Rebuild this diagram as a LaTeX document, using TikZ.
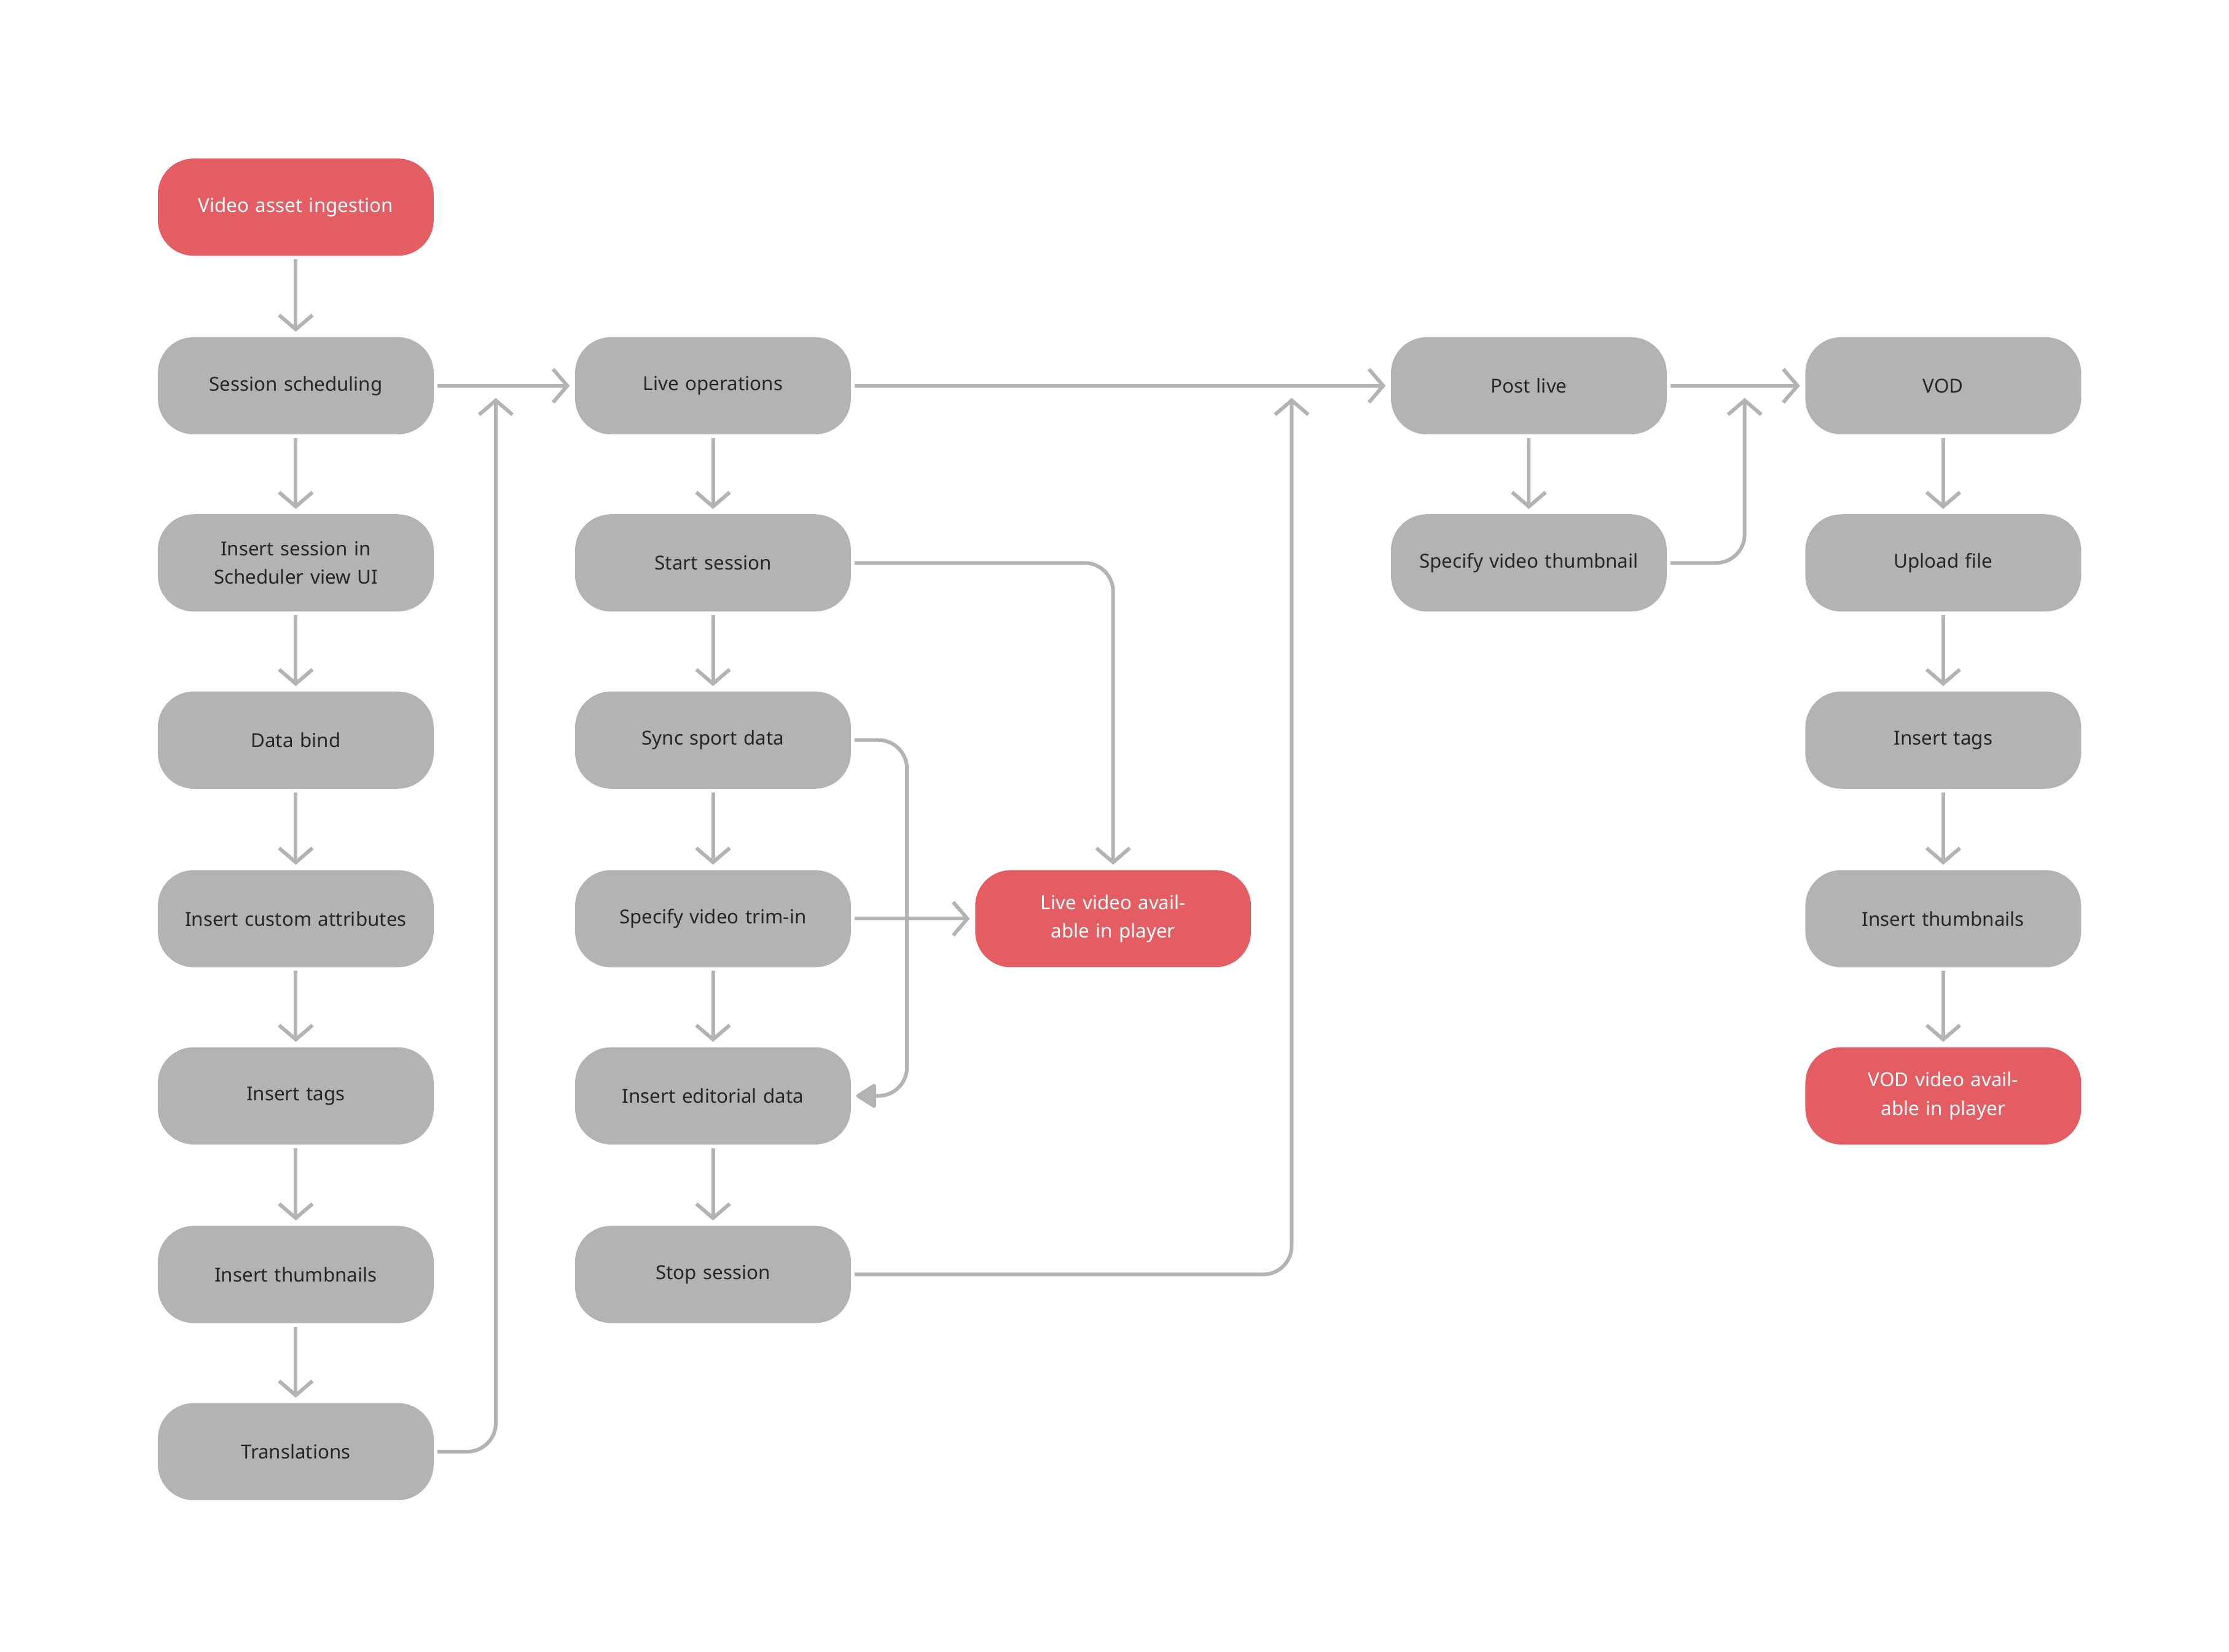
\documentclass[tikz,border=0pt]{standalone}
\usepackage{fontspec}
\setmainfont{Noto Sans}
\usetikzlibrary{arrows.meta}
\definecolor{boxgray}{HTML}{B3B3B3}
\definecolor{boxred}{HTML}{E35D63}
\begin{document}
\begin{tikzpicture}[x=0.03cm,y=-0.03cm]
		% styles
		\tikzset{
		  etape/.style={rectangle,rounded corners=0.75cm,fill=boxgray,text=black!85,minimum width=5.79cm,minimum height=2.04cm,align=center,text width=5cm,font=\fontsize{11.5}{17}\selectfont},
		  titre/.style={etape,font=\fontsize{11.5}{17}\selectfont\bfseries},
		  fin/.style={etape,fill=boxred,text=white,font=\fontsize{11.5}{17}\selectfont\bfseries},
		  lien/.style={draw=boxgray,line width=2.2pt,rounded corners=0.6cm,shorten <=2pt,shorten >=3pt,-{Straight Barb[length=0.3cm,width=0.7cm,line width=2.2pt]}},
		  lienplein/.style={lien,-{Triangle[length=0.45cm,width=0.55cm,round]}}
		}
		\useasboundingbox (0,0) rectangle (1560,1156);
		% colonne 1
		\node[fin] (ingest) at (207,145) {Video asset ingestion};
		\node[titre] (sched) at (207,270) {Session scheduling};
		\node[etape] (insert) at (207,394) {Insert session in\\Scheduler view UI};
		\node[etape] (bind) at (207,518) {Data bind};
		\node[etape] (attr) at (207,643) {Insert custom attributes};
		\node[etape] (tags) at (207,767) {Insert tags};
		\node[etape] (thumbs) at (207,892) {Insert thumbnails};
		\node[etape] (trans) at (207,1016) {Translations};
		% colonne 2
		\node[titre] (liveops) at (499,270) {Live operations};
		\node[etape] (start) at (499,394) {Start session};
		\node[etape] (sync) at (499,518) {Sync sport data};
		\node[etape] (trim) at (499,643) {Specify video trim-in};
		\node[etape] (edit) at (499,767) {Insert editorial data};
		\node[etape] (stop) at (499,892) {Stop session};
		\node[fin] (livevid) at (779,643) {Live video available in player};
		% colonne 3 et 4
		\node[titre] (post) at (1070,270) {Post live};
		\node[etape] (vthumb) at (1070,394) {Specify video thumbnail};
		\node[titre] (vod) at (1360,270) {VOD};
		\node[etape] (upload) at (1360,394) {Upload file};
		\node[etape] (vtags) at (1360,518) {Insert tags};
		\node[etape] (vthumbs) at (1360,643) {Insert thumbnails};
		\node[fin] (vodvid) at (1360,767) {VOD video available in player};
		% points de jonction
		\coordinate (j1) at (347,275);
		\coordinate (j2) at (904,275);
		\coordinate (j3) at (1221,275);
		% les flèches
		\draw[lien] (ingest) -- (sched);
		\draw[lien] (sched) -- (insert);
		\draw[lien] (insert) -- (bind);
		\draw[lien] (bind) -- (attr);
		\draw[lien] (attr) -- (tags);
		\draw[lien] (tags) -- (thumbs);
		\draw[lien] (thumbs) -- (trans);
		\draw[lien] (sched) -- (liveops);
		\draw[lien] (trans.east) -| (j1);
		\draw[lien] (liveops) -- (start);
		\draw[lien] (start) -- (sync);
		\draw[lien] (sync) -- (trim);
		\draw[lien] (trim) -- (edit);
		\draw[lien] (edit) -- (stop);
		\draw[lien] (trim) -- (livevid);
		\draw[lien] (start.east) -| (livevid.north);
		\draw[lienplein] (sync.east) -- ++(39,0) |- (edit.east);
		\draw[lien] (stop.east) -| (j2);
		\draw[lien] (liveops) -- (post);
		\draw[lien] (post) -- (vthumb);
		\draw[lien] (vthumb.east) -| (j3);
		\draw[lien] (post) -- (vod);
		\draw[lien] (vod) -- (upload);
		\draw[lien] (upload) -- (vtags);
		\draw[lien] (vtags) -- (vthumbs);
		\draw[lien] (vthumbs) -- (vodvid);
	\end{tikzpicture}
\end{document}
